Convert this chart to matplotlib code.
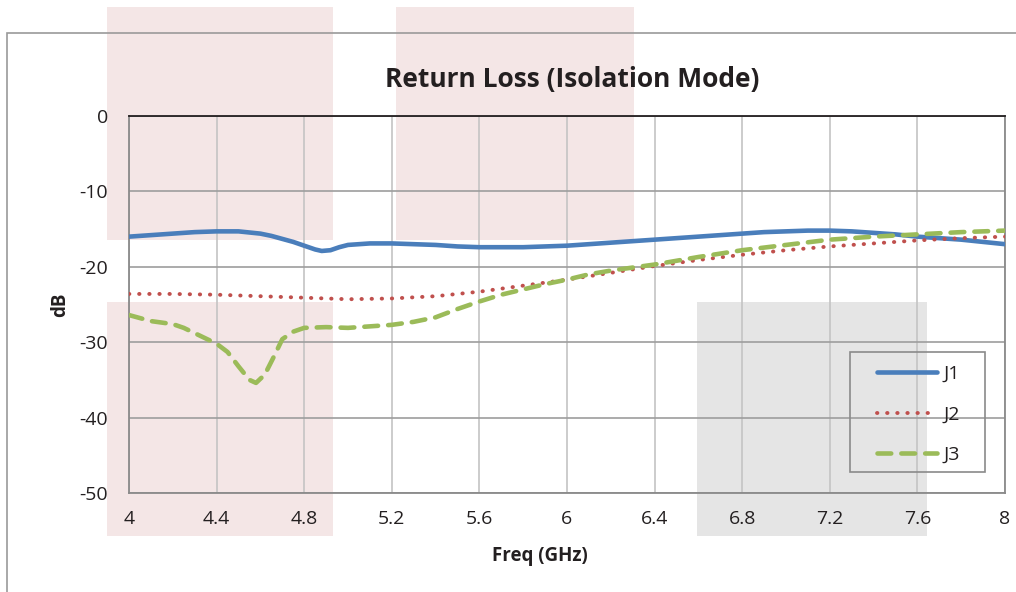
import matplotlib
matplotlib.use("Agg")
import matplotlib.pyplot as plt
from matplotlib.patches import Rectangle

# J1 (solid blue)
j1_freq = [4.0, 4.1, 4.2, 4.3, 4.4, 4.5, 4.6, 4.65, 4.7, 4.75, 4.8, 4.85, 4.88, 4.92,
           4.96, 5.0, 5.1, 5.2, 5.3, 5.4, 5.5, 5.6, 5.7, 5.8, 5.9, 6.0, 6.1, 6.2, 6.3,
           6.4, 6.5, 6.6, 6.7, 6.8, 6.9, 7.0, 7.1, 7.2, 7.3, 7.4, 7.5, 7.6, 7.7, 7.8,
           7.9, 8.0]
j1_db = [-16.0, -15.8, -15.6, -15.4, -15.3, -15.3, -15.6, -15.9, -16.3, -16.7, -17.2,
         -17.7, -17.9, -17.8, -17.4, -17.1, -16.9, -16.9, -17.0, -17.1, -17.3, -17.4,
         -17.4, -17.4, -17.3, -17.2, -17.0, -16.8, -16.6, -16.4, -16.2, -16.0, -15.8,
         -15.6, -15.4, -15.3, -15.2, -15.2, -15.3, -15.5, -15.7, -16.0, -16.2, -16.4,
         -16.7, -17.0]

# J2 (dotted red)
j2_freq = [4.0, 4.2, 4.4, 4.6, 4.8, 5.0, 5.2, 5.4, 5.6, 5.8, 6.0, 6.2, 6.4, 6.6, 6.8,
           7.0, 7.2, 7.4, 7.6, 7.8, 8.0]
j2_db = [-23.6, -23.6, -23.7, -23.9, -24.1, -24.3, -24.2, -23.9, -23.3, -22.5, -21.7,
         -20.8, -19.9, -19.1, -18.4, -17.8, -17.3, -16.9, -16.5, -16.2, -16.0]

# J3 (dashed green)
j3_freq = [4.0, 4.05, 4.1, 4.15, 4.2, 4.25, 4.3, 4.35, 4.4, 4.45, 4.5, 4.55, 4.58, 4.62,
           4.66, 4.7, 4.75, 4.8, 4.9, 5.0, 5.1, 5.2, 5.3, 5.4, 5.5, 5.6, 5.7, 5.8, 5.9,
           6.0, 6.1, 6.2, 6.3, 6.4, 6.6, 6.8, 7.0, 7.2, 7.4, 7.6, 7.8, 8.0]
j3_db = [-26.4, -26.8, -27.2, -27.4, -27.6, -28.1, -28.8, -29.5, -30.2, -31.3, -33.2,
         -35.0, -35.4, -34.3, -32.0, -29.6, -28.6, -28.1, -28.0, -28.1, -27.9, -27.7,
         -27.3, -26.7, -25.6, -24.6, -23.7, -23.0, -22.3, -21.7, -21.0, -20.5, -20.1,
         -19.7, -18.7, -17.8, -17.1, -16.4, -16.0, -15.7, -15.4, -15.2]

x_ticks = [4, 4.4, 4.8, 5.2, 5.6, 6, 6.4, 6.8, 7.2, 7.6, 8]
x_labels = ["4", "4.4", "4.8", "5.2", "5.6", "6", "6.4", "6.8", "7.2", "7.6", "8"]
y_ticks = [0, -10, -20, -30, -40, -50]

W, H = 1016, 592
plt.rcParams['font.family'] = ['Open Sans', 'DejaVu Sans']
plt.rcParams['axes.unicode_minus'] = False
txt = '#231f20'

fig = plt.figure(figsize=(W / 100, H / 100), dpi=100)

def px_rect(x0, y0, x1, y1, **kw):
    # rectangle given in image pixels (origin top-left)
    return Rectangle((x0 / W, 1 - y1 / H), (x1 - x0) / W, (y1 - y0) / H,
                     transform=fig.transFigure, **kw)

# highlight boxes behind the chart
pink = '#f4e6e6'
fig.patches.append(px_rect(107, 7, 333, 240, facecolor=pink, edgecolor='none', zorder=-2))
fig.patches.append(px_rect(107, 302, 333, 536, facecolor=pink, edgecolor='none', zorder=-2))
fig.patches.append(px_rect(396, 7, 634, 240, facecolor=pink, edgecolor='none', zorder=-2))
fig.patches.append(px_rect(697, 302, 927, 536, facecolor='#e5e5e5', edgecolor='none', zorder=-2))
# chart border (runs off the image on right / bottom)
fig.patches.append(px_rect(7, 33, 1030, 610, facecolor='none', edgecolor='#9a9a9a',
                           linewidth=1.2, zorder=-1))
# legend frame
fig.patches.append(px_rect(850, 352, 985, 472, facecolor='none', edgecolor='#8a8a8a',
                           linewidth=1.2, zorder=2))

ax = fig.add_axes([129 / W, 1 - 493 / H, (1005 - 129) / W, (493 - 116) / H])
ax.set_facecolor('none')

ax.plot(j1_freq, j1_db, color='#4a7ebb', lw=3.3, solid_capstyle='round', label='J1', zorder=3)
ax.plot(j2_freq, j2_db, color='#c0504d', lw=2.8, linestyle=(0, (0.1, 2.5)),
        dash_capstyle='round', label='J2', zorder=3)
ax.plot(j3_freq, j3_db, color='#9bbb59', lw=3.3, linestyle=(0, (3.0, 2.2)),
        dash_capstyle='round', label='J3', zorder=3)

ax.set_xlim(4, 8)
ax.set_ylim(-50, 0)
ax.set_xticks(x_ticks)
ax.set_xticklabels(x_labels)
ax.set_yticks(y_ticks)
ax.tick_params(length=0, labelsize=14, colors=txt)
ax.tick_params(axis='y', pad=15)
ax.tick_params(axis='x', pad=12)

ax.grid(axis='y', color='#9d9d9d', lw=1.2)
ax.grid(axis='x', color='#c4c4c4', lw=1.2)
ax.set_axisbelow(True)
for s in ['left', 'bottom', 'right']:
    ax.spines[s].set_color('#8a8a8a')
    ax.spines[s].set_linewidth(1.3)
ax.spines['top'].set_color(txt)
ax.spines['top'].set_linewidth(1.3)

fig.text(572 / W, 1 - 80 / H, 'Return Loss (Isolation Mode)', ha='center', va='center',
         fontsize=19, fontweight='bold', color=txt)
fig.text(60 / W, 1 - 305 / H, 'dB', ha='center', va='center', rotation=90,
         fontsize=13.5, fontweight='bold', color=txt)
fig.text(540 / W, 1 - 556 / H, 'Freq (GHz)', ha='center', va='center',
         fontsize=13.5, fontweight='bold', color=txt)

leg = ax.legend(loc='upper left', bbox_to_anchor=(877 / W, 1 - 365 / H),
                bbox_transform=fig.transFigure, borderaxespad=0, frameon=False,
                fontsize=14, handlelength=3.1, handletextpad=0.3,
                labelspacing=1.15, borderpad=0)
for t in leg.get_texts():
    t.set_color(txt)

fig.savefig('out.png', dpi=100, facecolor='white')
